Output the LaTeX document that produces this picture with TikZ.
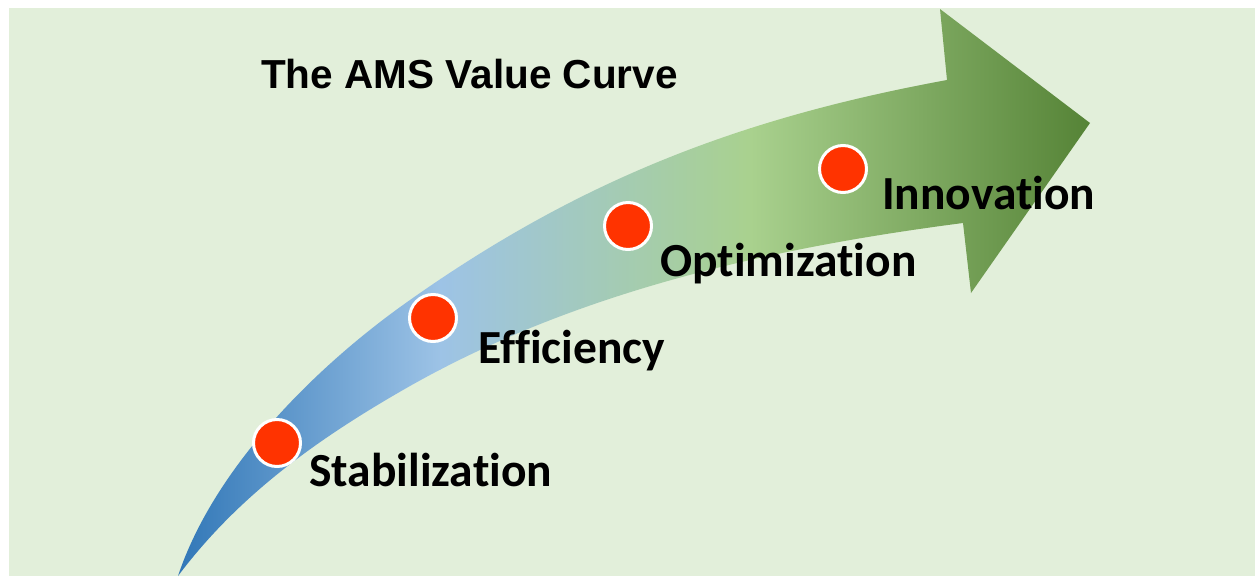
\documentclass[tikz,border=0pt]{standalone}
\usepackage{fontspec}
\newfontfamily\lblfont[Ligatures=NoCommon]{Carlito}
\newfontfamily\ttlfont{Liberation Sans}
\definecolor{bgreen}{RGB}{226,239,218}
\definecolor{dotred}{RGB}{255,51,0}
\definecolor{cA}{RGB}{46,117,182}
\definecolor{cB}{RGB}{157,195,230}
\definecolor{cC}{RGB}{169,209,142}
\definecolor{cD}{RGB}{84,130,53}
\begin{document}
\begin{tikzpicture}[x=1pt,y=-1pt,
  dot/.style={circle,fill=dotred,draw=white,line width=3pt,minimum size=47pt,inner sep=0pt},
  lbl/.style={anchor=base west,inner sep=0pt,font=\lblfont\bfseries\fontsize{47.5}{52}\selectfont},
  ttl/.style={anchor=base west,inner sep=0pt,font=\ttlfont\bfseries\fontsize{40.5}{44}\selectfont}]
\useasboundingbox (0,0) rectangle (1255,576);
\fill[white] (0,0) rectangle (1255,576);
\fill[bgreen] (9,8) rectangle (1255,576);
% curved arrow
\begin{scope}
\clip (178,576) .. controls (215,465) and (320,363) .. (410,300)
  .. controls (580,180) and (740,118) .. (947,80)
  -- (940,9) -- (1090,123) -- (971,293) -- (963,223)
  .. controls (770,248) and (573,292) .. (403,390)
  .. controls (316,440) and (238,496) .. (178,576)
  -- cycle;
\shade[left color=cA,right color=cB] (170,0) rectangle (441,576);
\shade[left color=cB,right color=cC] (440,0) rectangle (751,576);
\shade[left color=cC,right color=cD] (750,0) rectangle (1095,576);
\end{scope}
\node[ttl] (title) at (261,88) {The AMS Value Curve};
\node[dot] (d1) at (277,443) {};
\node[dot] (d2) at (433,318) {};
\node[dot] (d3) at (628,226) {};
\node[dot] (d4) at (843,169) {};
\node[lbl] (l1) at (309,486) {Stabilization};
\node[lbl] (l2) at (478,363) {Efficiency};
\node[lbl] (l3) at (660,276) {Optimization};
\node[lbl] (l4) at (882,209) {Innovation};
\end{tikzpicture}
\end{document}
